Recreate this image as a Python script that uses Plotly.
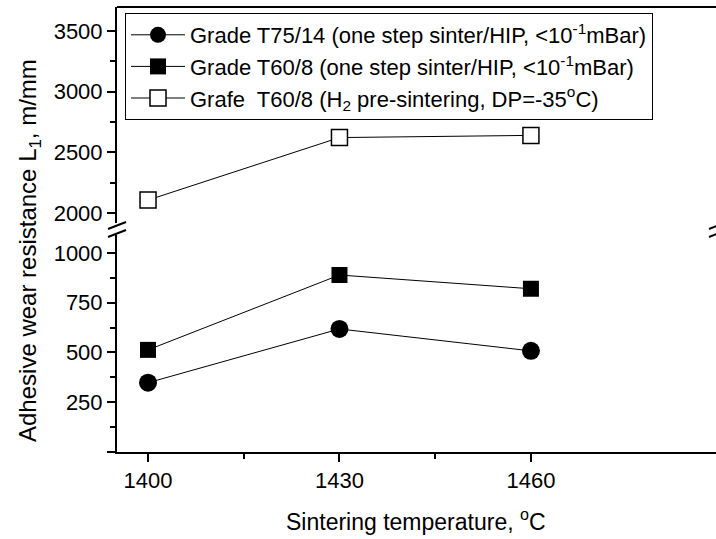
import plotly.graph_objects as go

temps = [1400, 1430, 1460]
t75_14 = [348, 618, 508]
t60_8 = [513, 889, 820]
t60_8_h2 = [2107, 2622, 2640]

names = [
    "Grade T75/14 (one step sinter/HIP, <10<sup>-1</sup>mBar)",
    "Grade T60/8 (one step sinter/HIP, <10<sup>-1</sup>mBar)",
    "Grafe  T60/8 (H<sub>2</sub> pre-sintering, DP=-35<sup>o</sup>C)",
]

FONT = "Liberation Sans, Arial, sans-serif"
W, H = 716, 539
L, R, T, B = 117, 0, 7, 87
pw, ph = W - L - R, H - T - B

def px(x):
    return (x - L) / pw

def py(y):
    return (H - B - y) / ph

fig = go.Figure()
fig.add_trace(go.Scatter(x=temps, y=t75_14, name=names[0], mode="lines+markers",
                         line=dict(color="black", width=1),
                         marker=dict(symbol="circle", size=18, color="black"),
                         xaxis="x", yaxis="y"))
fig.add_trace(go.Scatter(x=temps, y=t60_8, name=names[1], mode="lines+markers",
                         line=dict(color="black", width=1),
                         marker=dict(symbol="square", size=16, color="black"),
                         xaxis="x", yaxis="y"))
fig.add_trace(go.Scatter(x=temps, y=t60_8_h2, name=names[2], mode="lines+markers",
                         line=dict(color="black", width=1),
                         marker=dict(symbol="square", size=16, color="white",
                                     line=dict(color="black", width=1.5)),
                         xaxis="x", yaxis="y2"))

lower_top = py(235)
upper_bot = py(223)

axis_common = dict(showline=True, linecolor="black", linewidth=2, ticks="outside",
                   tickcolor="black", tickwidth=2, ticklen=8, showgrid=False,
                   zeroline=False, tickfont=dict(family=FONT, size=22, color="black"))

fig.update_layout(
    width=W, height=H,
    margin=dict(l=L, r=R, t=T, b=B),
    paper_bgcolor="white", plot_bgcolor="white",
    font=dict(family=FONT, color="black"),
    xaxis=dict(range=[1395.14, 1489], anchor="y",
               tickvals=[1400, 1430, 1460],
               minor=dict(tickmode="array", tickvals=[1415, 1445], ticks="outside",
                          ticklen=5, tickwidth=2, tickcolor="black", showgrid=False),
               **axis_common),
    yaxis=dict(domain=[0, lower_top], range=[0, 1090], anchor="x",
               tickvals=[0, 250, 500, 750, 1000],
               ticktext=["", "250", "500", "750", "1000"],
               minor=dict(tickmode="array", tickvals=[125, 375, 625, 875], ticks="outside",
                          ticklen=5, tickwidth=2, tickcolor="black", showgrid=False),
               **axis_common),
    yaxis2=dict(domain=[upper_bot, 1], range=[1918, 3698], anchor="x",
                tickvals=[2000, 2500, 3000, 3500],
                minor=dict(tickmode="array", tickvals=[2250, 2750, 3250], ticks="outside",
                           ticklen=5, tickwidth=2, tickcolor="black", showgrid=False),
                **axis_common),
    showlegend=True,
    legend=dict(x=px(125), y=py(13), xanchor="left", yanchor="top",
                bgcolor="white", bordercolor="black", borderwidth=1,
                font=dict(family=FONT, size=22, color="black"),
                itemwidth=54),
)

# top frame line
fig.add_shape(type="line", xref="paper", yref="paper", x0=0, x1=1, y0=1, y1=1,
              line=dict(color="black", width=2))
# axis break marks (left and right)
for cx in (117, 718):
    for dy in (0, 8):
        fig.add_shape(type="line", xref="paper", yref="paper",
                      x0=px(cx - 9), y0=py(229 + dy), x1=px(cx + 9), y1=py(222 + dy),
                      line=dict(color="black", width=2))

fig.add_annotation(text="Sintering temperature, <sup>o</sup>C", xref="paper", yref="paper",
                   x=px(416), y=py(520), xanchor="center", yanchor="middle",
                   showarrow=False, font=dict(family=FONT, size=23, color="black"))
fig.add_annotation(text="Adhesive wear resistance L<sub>1</sub>, m/mm", xref="paper", yref="paper",
                   x=px(30), y=py(251), xanchor="center", yanchor="middle", textangle=-90,
                   showarrow=False, font=dict(family=FONT, size=24, color="black"))

fig.write_html("out.html")
